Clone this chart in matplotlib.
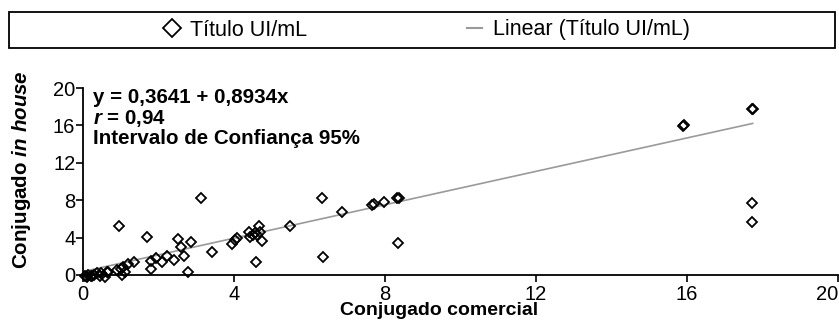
import matplotlib
matplotlib.use("Agg")
import matplotlib.pyplot as plt
from matplotlib.lines import Line2D
from matplotlib.patches import Rectangle

plt.rcParams['font.family'] = ['Liberation Sans', 'DejaVu Sans']
plt.rcParams['mathtext.fontset'] = 'custom'
plt.rcParams['mathtext.rm'] = 'Liberation Sans:bold'
plt.rcParams['mathtext.bf'] = 'Liberation Sans:bold'
plt.rcParams['mathtext.it'] = 'Liberation Sans:italic:bold'
plt.rcParams['mathtext.bfit'] = 'Liberation Sans:italic:bold'

# data
conj_comercial = [0.05, 0.10, 0.14, 0.20, 0.23, 0.30, 0.36, 0.45, 0.49, 0.58,
                  0.63, 0.67, 0.89, 0.96, 1.00, 1.02, 1.07, 1.11, 1.20, 1.35,
                  1.70, 1.79, 1.80, 1.93, 2.08, 2.23, 2.41, 2.51, 2.59, 2.68,
                  2.79, 2.86, 3.13, 3.41, 3.96, 4.03, 4.07, 4.41, 4.42, 4.50,
                  4.56, 4.58, 4.60, 4.66, 4.69, 4.73, 5.48, 6.32, 6.35, 6.86,
                  7.66, 7.72, 7.97, 8.33, 8.37, 8.35, 15.90, 15.92, 17.72, 17.74,
                  17.72, 17.72]
conj_in_house = [-0.10, -0.25, 0.00, -0.15, -0.10, 0.05, 0.18, -0.10, 0.18, -0.18,
                 0.36, 0.30, 0.53, 5.24, 0.64, 0.00, 0.89, 0.36, 1.18, 1.42,
                 4.10, 0.64, 1.53, 1.78, 1.42, 2.03, 1.60, 3.80, 3.03, 2.07,
                 0.36, 3.56, 8.20, 2.50, 3.30, 3.74, 3.92, 4.63, 4.10, 4.30,
                 4.46, 1.36, 4.28, 5.24, 4.63, 3.67, 5.24, 8.20, 1.89, 6.70,
                 7.50, 7.56, 7.80, 8.20, 8.25, 3.39, 15.95, 16.00, 17.75, 17.80,
                 7.70, 5.64]
intercept = 0.3641
slope = 0.8934
ticks = [0, 4, 8, 12, 16, 20]

fig = plt.figure(figsize=(8.39, 3.31), dpi=100)
ax = fig.add_axes([83 / 839, 56 / 331, 755 / 839, 187 / 331])

## trend line over the data range
x_min, x_max = min(conj_comercial), max(conj_comercial)
ax.plot([x_min, x_max], [intercept + slope * x_min, intercept + slope * x_max],
        color="#9a9a9a", lw=1.2, zorder=2)
## points
ax.plot(conj_comercial, conj_in_house, linestyle="none", marker="D", ms=5.3,
        mfc="none", mec="black", mew=1.3, clip_on=False, zorder=3)

ax.set_xlim(0, 20)
ax.set_ylim(0, 20)
ax.set_xticks(ticks)
ax.set_yticks(ticks)
ax.tick_params(labelsize=14.5, length=5, width=1.2)
ax.tick_params(axis="y", pad=0.5)
ax.tick_params(axis="x", pad=2)
ax.get_xticklabels()[-1].set_horizontalalignment("right")
for side in ["top", "right"]:
    ax.spines[side].set_visible(False)
for side in ["left", "bottom"]:
    ax.spines[side].set_linewidth(1.3)

ax.set_xlabel("Conjugado comercial", fontsize=14, fontweight="bold")
ax.xaxis.set_label_coords(0.4715, -0.145)
ax.set_ylabel(r"Conjugado $\mathbfit{in\ house}$", fontsize=14.8, fontweight="bold")
ax.yaxis.set_label_coords(-0.066, 0.565)

ax.text(0.013, 1.0, "y = 0,3641 + 0,8934x\n" + r"$\mathbfit{r}$ = 0,94" + "\nIntervalo de Confiança 95%",
        transform=ax.transAxes, ha="left", va="top", fontsize=14.8, fontweight="bold",
        linespacing=1.04)

## legend box on top
fig.patches.append(Rectangle((9 / 839, 1 - 48 / 331), 826 / 839, 36 / 331,
                             transform=fig.transFigure, fill=False, ec="black", lw=1.3))
handles = [Line2D([], [], linestyle="none", marker="D", ms=9.5, mfc="none", mec="black", mew=1.3),
           Line2D([], [], color="#9a9a9a", lw=1.5)]
fig.legend(handles, ["Título UI/mL", "Linear (Título UI/mL)"], loc="center",
           bbox_to_anchor=(427 / 839, 1 - 30 / 331), ncol=2, frameon=False, fontsize=15.5,
           handlelength=0.7, handletextpad=0.5, columnspacing=7.4)

fig.savefig("out.png", dpi=100)
